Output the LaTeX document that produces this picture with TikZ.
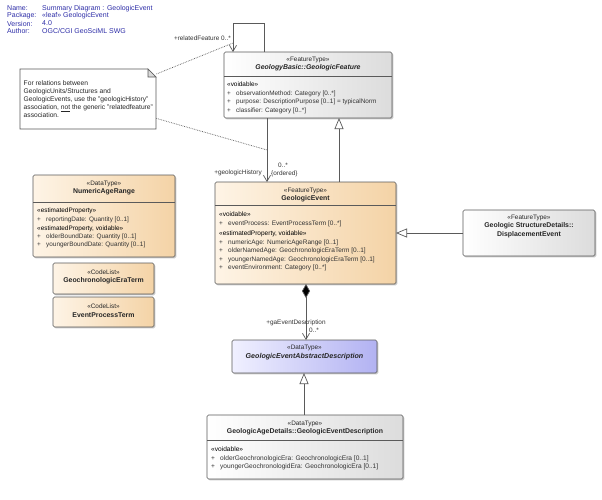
\documentclass[tikz,border=0pt]{standalone}
\usepackage{fontspec}
\setmainfont{Liberation Sans}
\usetikzlibrary{arrows.meta,shadows,calc}
\definecolor{hdrblue}{HTML}{2E2EA8}
\definecolor{orL}{HTML}{FEF4E6}
\definecolor{orD}{HTML}{F4D3A6}
\definecolor{blL}{HTML}{F0F0FF}
\definecolor{blD}{HTML}{B2B2F2}
\definecolor{grL}{HTML}{FFFFFF}
\definecolor{grD}{HTML}{DCDCDC}
\definecolor{edge}{HTML}{5A5A5A}
\newcommand\pl{\makebox[9pt][l]{+}}
\newcommand\cn{\fontsize{6.9}{8}\selectfont\bfseries}
\begin{document}
\begin{tikzpicture}[x=1pt,y=-1pt,
  every node/.style={font=\fontsize{6.4}{8}\selectfont},
  cls/.style={draw=edge, line width=0.6pt, rounded corners=1.5pt, anchor=north west,
    inner sep=0pt, outer sep=0pt,
    drop shadow={shadow xshift=1.3pt, shadow yshift=-1.3pt, opacity=0.3, fill=black!70}},
  graycls/.style={cls, left color=grL, right color=grD},
  orcls/.style={cls, left color=orL, right color=orD},
  blcls/.style={cls, left color=blL, right color=blD},
  ctext/.style={inner sep=0pt, align=center, text=black!85},
  attr/.style={anchor=north west, align=left, inner sep=0pt, text=black!80},
  sep/.style={draw=edge, line width=0.6pt},
  lbl/.style={inner sep=0pt, text=black!80},
  hdr/.style={inner sep=0pt, anchor=west, text=hdrblue, font=\fontsize{7}{8}\selectfont},
  conn/.style={draw=edge, line width=0.7pt},
  genz/.style={conn, -{Triangle[open, length=11pt, width=9pt, fill=white]}},
  navig/.style={conn, -{Straight Barb[length=6pt, width=7pt, line width=0.7pt]}},
  notelink/.style={draw=edge, line width=0.7pt, densely dotted}
]
\useasboundingbox[fill=white] (0,0) rectangle (602,499);

% header
\node[hdr] (hn) at (7,8.5) {Name:};
\node[hdr] (hp) at (7,16) {Package:};
\node[hdr] (hv) at (7,23.5) {Version:};
\node[hdr] (ha) at (7,31) {Author:};
\node[hdr] (hnv) at (42,8.5) {Summary Diagram : GeologicEvent};
\node[hdr] (hpv) at (42,16) {«leaf» GeologicEvent};
\node[hdr] (hvv) at (42,23.5) {4.0};
\node[hdr] (hav) at (42,31) {OGC/CGI GeoSciML SWG};

% note
\node[minimum width=136pt, minimum height=60pt, anchor=north west, inner sep=0pt] (note) at (20,69) {};
\draw[draw=edge, line width=0.6pt, fill=white] (20,69) -- (148,69) -- (156,77) -- (156,129) -- (20,129) -- cycle;
\draw[draw=edge, line width=0.6pt, fill=black!15] (148,69) -- (148,77) -- (156,77) -- cycle;
\node[attr, text=black!85, font=\fontsize{6.7}{8.1}\selectfont] (notetext) at (23.5,80)
 {For relations between\\GeologicUnits/Structures and\\GeologicEvents, use the "geologicHistory"\\association, \underline{not} the generic "relatedfeature"\\association.};

% GeologicFeature
\node[graycls, minimum width=168pt, minimum height=66pt] (gf) at (224,52) {};
\draw[sep] (224,76) -- (392,76);
\node[ctext] (gfs) at (308,60) {«FeatureType»};
\node[ctext, font=\cn\itshape] (gfn) at (308,68) {GeologyBasic::GeologicFeature};
\node[attr, font=\fontsize{6.4}{8.5}\selectfont] (gfa) at (227,82)
 {\textcolor{black}{«voidable»}\\\pl observationMethod: Category [0..*]\\\pl purpose: DescriptionPurpose [0..1] = typicalNorm\\\pl classifier: Category [0..*]};

% GeologicEvent
\node[orcls, minimum width=181pt, minimum height=102pt] (ge) at (215,182) {};
\draw[sep] (215,205) -- (396,205);
\node[ctext] (ges) at (305.5,190.5) {«FeatureType»};
\node[ctext, font=\cn] (gen) at (305.5,199) {GeologicEvent};
\node[attr, font=\fontsize{6.5}{8.5}\selectfont] (gea) at (219,212)
 {\textcolor{black}{«voidable»}\\\pl eventProcess: EventProcessTerm [0..*]\\[2pt]
  \textcolor{black}{«estimatedProperty, voidable»}\\\pl numericAge: NumericAgeRange [0..1]\\\pl olderNamedAge: GeochronologicEraTerm [0..1]\\\pl youngerNamedAge: GeochronologicEraTerm [0..1]\\\pl eventEnvironment: Category [0..*]};

% NumericAgeRange
\node[orcls, minimum width=142pt, minimum height=82pt] (nar) at (33,175) {};
\draw[sep] (33,202) -- (175,202);
\node[ctext] (nars) at (104,184) {«DataType»};
\node[ctext, font=\cn] (narn) at (104,192) {NumericAgeRange};
\node[attr, font=\fontsize{6.4}{8.2}\selectfont] (nara) at (37,208)
 {\textcolor{black}{«estimatedProperty»}\\\pl reportingDate: Quantity [0..1]\\[1pt]
  \textcolor{black}{«estimatedProperty, voidable»}\\\pl olderBoundDate: Quantity [0..1]\\\pl youngerBoundDate: Quantity [0..1]};

% GeochronologicEraTerm
\node[orcls, minimum width=101pt, minimum height=31pt] (gcet) at (53,263) {};
\node[ctext] (gcets) at (103.5,272) {«CodeList»};
\node[ctext, font=\cn] (gcetn) at (103.5,281) {GeochronologicEraTerm};

% EventProcessTerm
\node[orcls, minimum width=101pt, minimum height=30pt] (ept) at (53,297) {};
\node[ctext] (epts) at (103.5,306) {«CodeList»};
\node[ctext, font=\cn] (eptn) at (103.5,315) {EventProcessTerm};

% DisplacementEvent
\node[graycls, minimum width=132pt, minimum height=46pt] (de) at (463,210) {};
\node[ctext] (des) at (529,218) {«FeatureType»};
\node[ctext, font=\fontsize{6.9}{8.8}\selectfont\bfseries] (den) at (529,230.5) {Geologic StructureDetails::\\DisplacementEvent};

% GeologicEventAbstractDescription
\node[blcls, minimum width=145pt, minimum height=33pt] (gead) at (232,340) {};
\node[ctext] (geads) at (304.5,348) {«DataType»};
\node[ctext, font=\fontsize{7.1}{8}\selectfont\bfseries\itshape] (geadn) at (304.5,357) {GeologicEventAbstractDescription};

% GeologicEventDescription
\node[graycls, minimum width=196pt, minimum height=64pt] (ged) at (207,415) {};
\draw[sep] (207,440) -- (403,440);
\node[ctext] (geds) at (305,423.5) {«DataType»};
\node[ctext, font=\cn] (gedn) at (305,432) {GeologicAgeDetails::GeologicEventDescription};
\node[attr, font=\fontsize{6.6}{8.2}\selectfont] (geda) at (211,447)
 {\textcolor{black}{«voidable»}\\\pl olderGeochronologicEra: GeochronologicEra [0..1]\\\pl youngerGeochronologidEra: GeochronologicEra [0..1]};

% self association relatedFeature
\coordinate (rf1) at ($(gf.north west)+(40,0)$);
\coordinate (rf2) at ($(gf.north west)+(40,-29)$);
\coordinate (rf3) at ($(gf.north west)+(9,-29)$);
\coordinate (rf4) at ($(gf.north west)+(9,0)$);
\draw[navig] (rf1) -- (rf2) -- (rf3) -- (rf4);
\node[lbl, anchor=east] (rfl) at (231,38) {+relatedFeature 0..*};

% geologicHistory
\draw[navig] (gf.south -| 267,0) -- (ge.north -| 267,0);
\node[lbl, anchor=east] (ghl) at (262,173) {+geologicHistory};
\node[lbl] (ghm) at (283,165) {0..*};
\node[lbl, anchor=west] (gho) at (271,174) {\{ordered\}};

% note links
\coordinate (nl1) at (233,43);
\coordinate (nl2) at (267,150);
\draw[notelink] (note.north east) ++(0,5) -- (nl1);
\draw[notelink] ($(note.south east)+(0,-11)$) -- (nl2);

% generalizations
\draw[genz] (ge.north -| 339,0) -- (gf.south -| 339,0);
\draw[genz] (de.west) -- (ge.east |- de.west);
\draw[genz] (ged.north -| 304,0) -- (gead.south -| 304,0);

% composition
\draw[conn, {Diamond[length=14pt, width=8pt, fill=black]}-{Straight Barb[length=6pt, width=7pt, line width=0.7pt]}] (ge.south -| 306,0) -- (gead.north -| 306,0);
\node[lbl] (gal) at (296,323) {+gaEventDescription};
\node[lbl, anchor=west] (gam) at (309,330) {0..*};
\end{tikzpicture}
\end{document}
